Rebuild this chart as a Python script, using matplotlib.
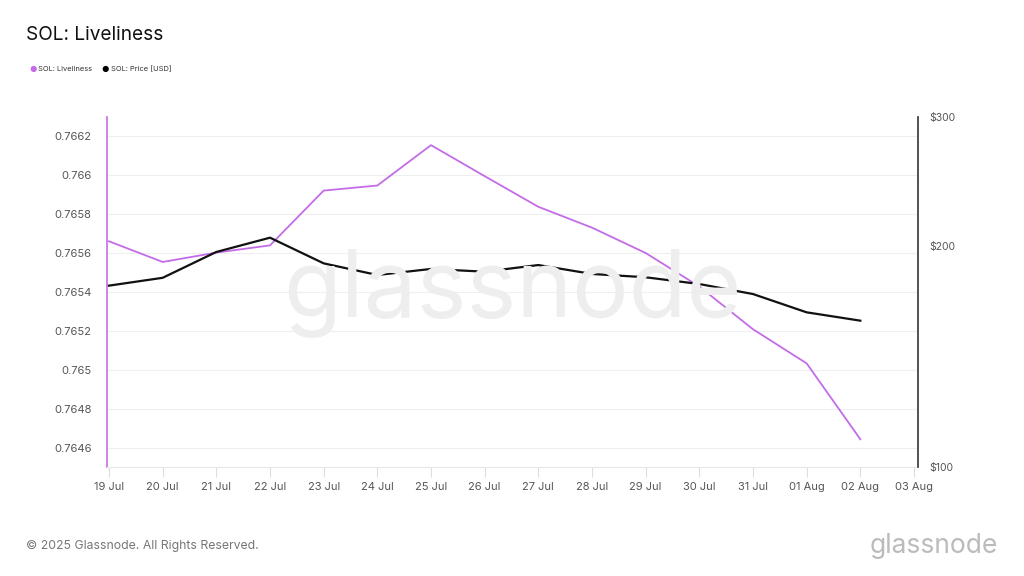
import matplotlib.pyplot as plt
import matplotlib.dates as mdates
from matplotlib.ticker import FixedLocator, FuncFormatter, NullLocator
import pandas as pd

plt.rcParams['font.family'] = ['Inter', 'DejaVu Sans']

# data
dates = ['2025-07-19', '2025-07-20', '2025-07-21', '2025-07-22', '2025-07-23',
         '2025-07-24', '2025-07-25', '2025-07-26', '2025-07-27', '2025-07-28',
         '2025-07-29', '2025-07-30', '2025-07-31', '2025-08-01', '2025-08-02']
liveliness = [0.765660, 0.765554, 0.765602, 0.765639, 0.765920,
              0.765946, 0.766153, 0.765994, 0.765837, 0.765730,
              0.765600, 0.765428, 0.765209, 0.765034, 0.764645]
price = [176.7, 181.1, 196.4, 205.4, 189.5,
         182.7, 186.2, 184.6, 188.5, 183.3,
         181.4, 177.6, 172.1, 162.5, 158.3]

left_ticks = [0.7646, 0.7648, 0.765, 0.7652, 0.7654, 0.7656, 0.7658, 0.766, 0.7662]
right_ticks = [100, 200, 300]
xtick_dates = ['2025-07-19', '2025-07-20', '2025-07-21', '2025-07-22', '2025-07-23',
               '2025-07-24', '2025-07-25', '2025-07-26', '2025-07-27', '2025-07-28',
               '2025-07-29', '2025-07-30', '2025-07-31', '2025-08-01', '2025-08-02',
               '2025-08-03']

purple = '#c46ce8'
x = mdates.date2num(pd.to_datetime(dates))
xt = mdates.date2num(pd.to_datetime(xtick_dates))

fig = plt.figure(figsize=(10.24, 5.76), dpi=100)
ax = fig.add_axes([0.1045, 0.1892, 0.792, 0.6077])
ax2 = ax.twinx()

ax.plot(x, liveliness, color=purple, lw=1.3)
ax2.plot(x, price, color='#111111', lw=1.6)

ax.set_xlim(xt[0] - 0.037, xt[-1] + 0.075)
ax.set_ylim(0.7645026, 0.7662974)
ax.set_yticks(left_ticks)
ax.yaxis.set_major_formatter(FuncFormatter(lambda v, p: f'{v:.4f}'.rstrip('0')))
ax.grid(axis='y', color='#efefef', lw=0.8)
ax.set_axisbelow(True)

ax.set_xticks(xt)
ax.xaxis.set_major_formatter(mdates.DateFormatter('%d %b'))
ax.tick_params(axis='x', colors='#dddddd', length=7, width=0.8, labelcolor='#555555',
               labelsize=8, pad=4)
ax.tick_params(axis='y', length=0, labelcolor='#555555', labelsize=8, pad=11)

ax2.set_yscale('log')
ax2.set_ylim(100, 300)
ax2.yaxis.set_major_locator(FixedLocator(right_ticks))
ax2.yaxis.set_minor_locator(NullLocator())
ax2.yaxis.set_major_formatter(FuncFormatter(lambda v, p: f'${v:.0f}'))
ax2.tick_params(axis='y', length=0, labelcolor='#555555', labelsize=7.5, pad=8)

for a in (ax, ax2):
    a.spines['top'].set_visible(False)
ax.spines['right'].set_visible(False)
ax.spines['left'].set_color(purple)
ax.spines['left'].set_linewidth(1.2)
ax.spines['bottom'].set_color('#e8e8e8')
ax.spines['bottom'].set_linewidth(0.8)
ax2.spines['left'].set_visible(False)
ax2.spines['bottom'].set_visible(False)
ax2.spines['right'].set_color('#333333')
ax2.spines['right'].set_linewidth(1.2)

# watermark
fig.text(0.5, 0.49, 'glassnode', fontsize=68, color='#eeeeee', ha='center', va='center',
         zorder=0)

# title and legend
fig.text(0.025, 0.94, 'SOL: Liveliness', fontsize=13.7, color='#111111', va='center')
fig.text(0.032, 0.88, '●', fontsize=6, color=purple, va='center', ha='center')
fig.text(0.037, 0.88, 'SOL: Liveliness', fontsize=5.4, color='#333333', va='center')
fig.text(0.103, 0.88, '●', fontsize=6, color='#000000', va='center', ha='center')
fig.text(0.108, 0.88, 'SOL: Price [USD]', fontsize=5.4, color='#333333', va='center')

# footer
fig.text(0.025, 0.052, '© 2025 Glassnode. All Rights Reserved.', fontsize=8.8,
         color='#777777', va='center')
fig.text(0.974, 0.052, 'glassnode', fontsize=19, color='#bbbbbb', va='center', ha='right')

fig.savefig('out.png', dpi=100)
